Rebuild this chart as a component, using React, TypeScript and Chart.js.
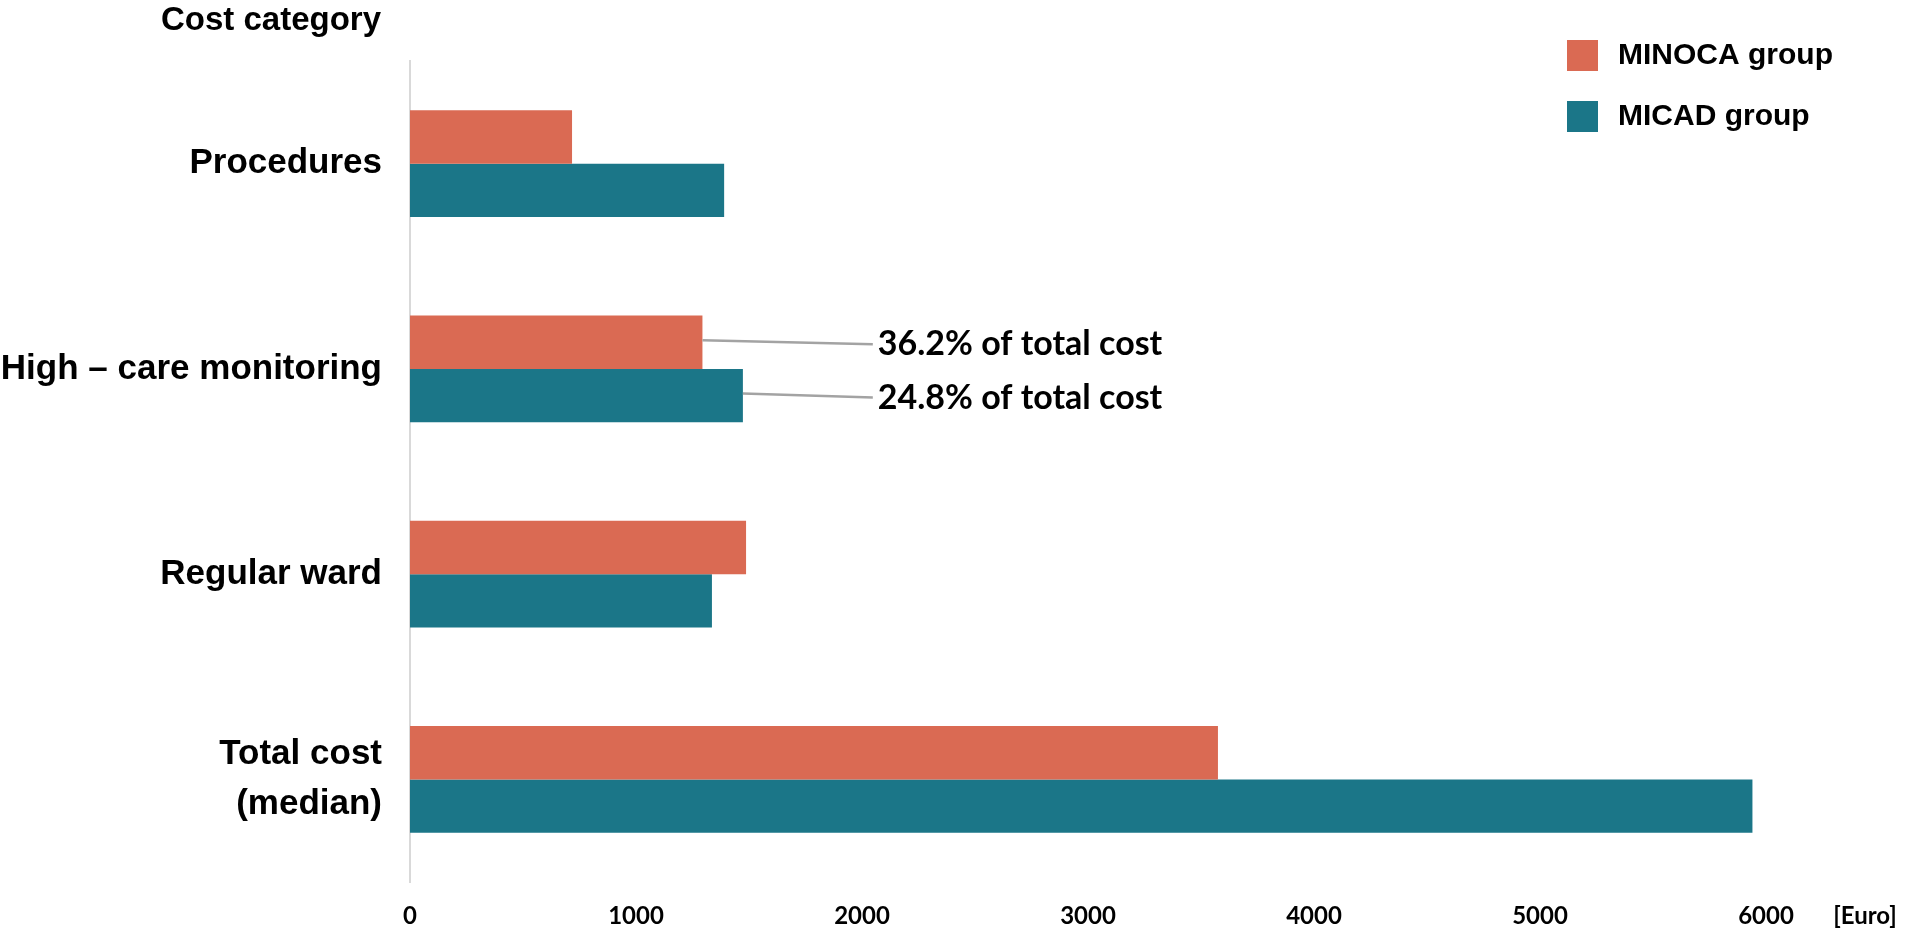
import { useEffect, useRef } from "react"
import { Chart, registerables } from "chart.js"

Chart.register(...registerables)

const categories = ["Procedures", "High – care monitoring", "Regular ward", ["Total cost", "(median)"]]
const seriesNames = ["MINOCA group", "MICAD group"]
const minocaCost = [717, 1294, 1487, 3575]
const micadCost = [1390, 1473, 1336, 5940]
const xTicks = [0, 1000, 2000, 3000, 4000, 5000, 6000]
const notes = ["36.2% of total cost", "24.8% of total cost"]
const noteCategory = 1

const ORANGE = "#da6a53"
const TEAL = "#1b7688"
const LABEL_FONT = "'Liberation Sans', Arial, Helvetica, sans-serif"
const NUM_FONT = "Lato, 'Open Sans', sans-serif"

const overlay = {
  id: "overlay",
  afterDraw(chart) {
    const { ctx, chartArea, scales } = chart
    ctx.save()

    // axis title above the category labels
    ctx.fillStyle = "#000"
    ctx.font = `bold 33px ${LABEL_FONT}`
    ctx.textAlign = "right"
    ctx.textBaseline = "alphabetic"
    ctx.fillText("Cost category", chartArea.left - 29, 30)

    // unit next to the last x tick
    ctx.font = `bold 24px ${NUM_FONT}`
    ctx.textAlign = "center"
    ctx.textBaseline = "middle"
    ctx.fillText("[Euro]", chartArea.right + 99, chartArea.bottom + 34)

    // legend, top right
    chart.data.datasets.forEach((ds, i) => {
      const y = 40 + i * 61
      ctx.fillStyle = ds.backgroundColor
      ctx.fillRect(1567, y, 31, 31)
      ctx.fillStyle = "#000"
      ctx.font = `bold 30px ${LABEL_FONT}`
      ctx.textAlign = "left"
      ctx.textBaseline = "middle"
      ctx.fillText(ds.label, 1618, y + 16)
    })

    // leader lines + share-of-total notes
    const textX = scales.x.getPixelForValue(2070)
    notes.forEach((txt, i) => {
      const bar = chart.getDatasetMeta(i).data[noteCategory]
      const ty = bar.y + 2
      ctx.strokeStyle = "#a3a3a3"
      ctx.lineWidth = 2.5
      ctx.beginPath()
      ctx.moveTo(bar.x, bar.y - 2)
      ctx.lineTo(textX - 5, ty)
      ctx.stroke()
      ctx.fillStyle = "#000"
      ctx.font = `bold 34px ${NUM_FONT}`
      ctx.textAlign = "left"
      ctx.textBaseline = "middle"
      ctx.fillText(txt, textX, ty)
    })

    ctx.restore()
  },
}

export default function App() {
  const chartRef = useRef(null)
  const chartInstance = useRef(null)

  useEffect(() => {
    document.body.style.margin = "0"
    if (chartRef.current) {
      if (chartInstance.current) {
        chartInstance.current.destroy()
      }

      const ctx = chartRef.current.getContext("2d")

      chartInstance.current = new Chart(ctx, {
        type: "bar",
        data: {
          labels: categories,
          datasets: [
            {
              label: seriesNames[0],
              data: minocaCost,
              backgroundColor: ORANGE,
              borderWidth: 0,
            },
            {
              label: seriesNames[1],
              data: micadCost,
              backgroundColor: TEAL,
              borderWidth: 0,
            },
          ],
        },
        options: {
          indexAxis: "y",
          responsive: true,
          maintainAspectRatio: false,
          animation: false,
          layout: {
            padding: { top: 61, right: 139, left: 0, bottom: 0 },
          },
          datasets: {
            bar: {
              categoryPercentage: 0.52,
              barPercentage: 1.0,
            },
          },
          plugins: {
            legend: { display: false },
            tooltip: { enabled: false },
          },
          scales: {
            x: {
              min: 0,
              max: 6000,
              afterBuildTicks: (scale) => {
                scale.ticks = xTicks.map((v) => ({ value: v }))
              },
              afterFit: (scale) => {
                scale.height = 49
              },
              grid: { display: false, drawTicks: false },
              border: { display: false },
              ticks: {
                padding: 20,
                color: "#000",
                font: { family: NUM_FONT, size: 24, weight: "bold" },
                maxRotation: 0,
                callback: (v) => String(v),
              },
            },
            y: {
              afterFit: (scale) => {
                scale.width = 410
                // keep the tall two-line label from pushing the plot down
                scale.paddingTop = 0
                scale.paddingBottom = 0
              },
              grid: { display: false, drawTicks: false },
              border: { display: true, color: "#d9d9d9", width: 2 },
              ticks: {
                padding: 28,
                color: "#000",
                font: { family: LABEL_FONT, size: 35, weight: "bold", lineHeight: 1.45 },
              },
            },
          },
        },
        plugins: [overlay],
      })
    }

    return () => {
      if (chartInstance.current) {
        chartInstance.current.destroy()
        chartInstance.current = null
      }
    }
  }, [])

  return (
    <div style={{ width: "1905px", height: "931px", position: "relative", background: "#fff" }}>
      <canvas ref={chartRef} />
    </div>
  )
}
